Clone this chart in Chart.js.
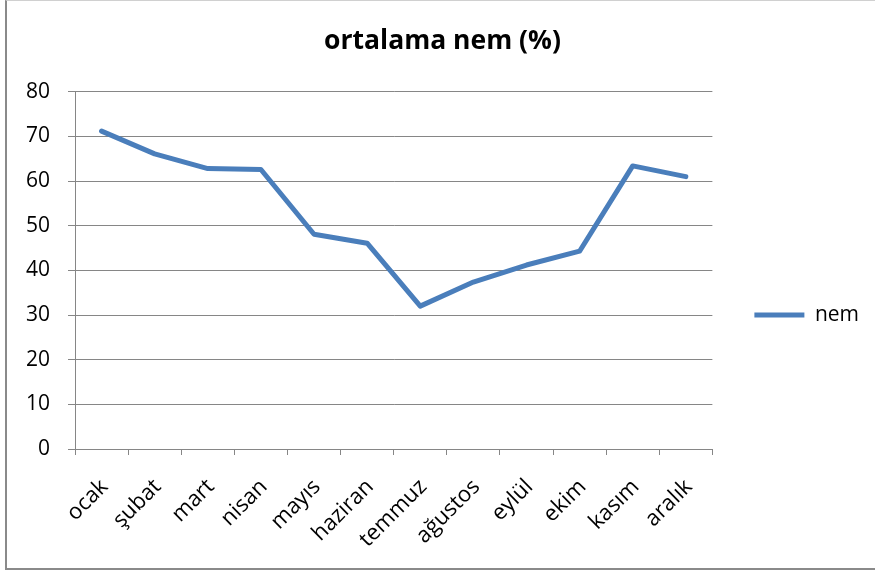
<!DOCTYPE html>
<html>
<head>
<meta charset="utf-8">
<script src="https://cdn.jsdelivr.net/npm/chart.js@4/dist/chart.umd.min.js"></script>
<style>
  html, body { margin: 0; padding: 0; background: #fff; overflow: hidden; }
  #wrap { position: relative; width: 875px; height: 574px; overflow: hidden; }
  #nemChart { position: absolute; left: 0; top: 0; }
  #frame {
    position: absolute; left: 5px; top: 0; width: 880px; height: 567px;
    border-left: 2px solid #8a8a8a; border-bottom: 2px solid #8a8a8a;
    border-top: 1px solid #d0d0d0; pointer-events: none;
  }
</style>
</head>
<body>
<div id="wrap">
  <canvas id="nemChart" width="875" height="630"></canvas>
  <div id="frame"></div>
</div>
<script>
const aylar = ['ocak', 'şubat', 'mart', 'nisan', 'mayıs', 'haziran', 'temmuz', 'ağustos', 'eylül', 'ekim', 'kasım', 'aralık'];
const nem = [71.2, 66.1, 62.8, 62.6, 48.1, 46.1, 32.0, 37.4, 41.2, 44.3, 63.4, 61.0];
const eksenMin = 0;
const eksenMax = 80;
const eksenAdim = 10;

const gri = '#868686';
const yaziTipi = "'Open Sans', sans-serif";

function grafikCiz() {
  const ctx = document.getElementById('nemChart').getContext('2d');
  new Chart(ctx, {
    type: 'line',
    data: {
      labels: aylar,
      datasets: [{
        label: 'nem',
        data: nem,
        borderColor: '#4A7EBB',
        backgroundColor: '#4A7EBB',
        borderWidth: 5,
        borderCapStyle: 'round',
        borderJoinStyle: 'round',
        pointRadius: 0,
        tension: 0,
        fill: false
      }]
    },
    options: {
      responsive: false,
      animation: false,
      layout: { padding: { left: 16, right: 6, top: 0, bottom: 0 } },
      plugins: {
        title: {
          display: true,
          text: 'ortalama nem (%)',
          color: '#000',
          font: { family: yaziTipi, size: 26.5, weight: 'bold', lineHeight: 1.2 },
          padding: { top: 26, bottom: 34 }
        },
        legend: {
          position: 'right',
          labels: {
            usePointStyle: true,
            pointStyle: 'line',
            pointStyleWidth: 50,
            boxHeight: 5,
            padding: 42,
            color: '#000',
            font: { family: yaziTipi, size: 21 }
          }
        },
        tooltip: { enabled: false }
      },
      scales: {
        x: {
          offset: true,
          grid: { offset: true, drawOnChartArea: false, drawTicks: true, tickLength: 6, color: gri },
          border: { display: true, color: gri, width: 1 },
          ticks: {
            color: '#000',
            font: { family: yaziTipi, size: 22 },
            minRotation: 45,
            maxRotation: 45,
            padding: 19,
            labelOffset: 3,
            autoSkip: false
          },
          afterFit: (scale) => { scale.height = 630 - 449; }
        },
        y: {
          min: eksenMin,
          max: eksenMax,
          grid: { color: gri, tickLength: 7, drawTicks: true },
          border: { display: true, color: gri, width: 1 },
          ticks: {
            stepSize: eksenAdim,
            color: '#000',
            font: { family: yaziTipi, size: 21 },
            padding: 18
          },
          afterFit: (scale) => { scale.width = 59; }
        }
      }
    }
  });
}

grafikCiz();
</script>
</body>
</html>
